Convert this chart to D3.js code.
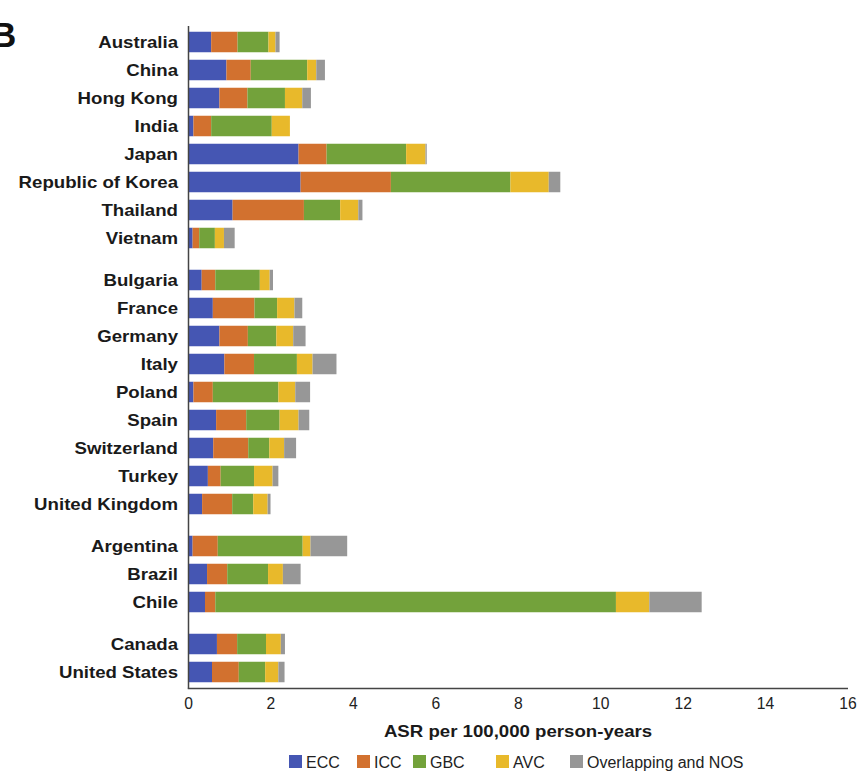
<!DOCTYPE html>
<html><head><meta charset="utf-8">
<script src="https://cdn.jsdelivr.net/npm/d3@7"></script>
<style>
html,body{margin:0;padding:0;background:#fff;}
svg{display:block;}
</style></head>
<body>
<svg id="chart" width="859" height="773"></svg>
<script>
const countries = ["Australia","China","Hong Kong","India","Japan","Republic of Korea","Thailand","Vietnam",
  "Bulgaria","France","Germany","Italy","Poland","Spain","Switzerland","Turkey","United Kingdom",
  "Argentina","Brazil","Chile","Canada","United States"];
const groups = [0,0,0,0,0,0,0,0, 1,1,1,1,1,1,1,1,1, 2,2,2, 3,3];
const seriesNames = ["ECC","ICC","GBC","AVC","Overlapping and NOS"];
const ecc = [0.55,0.92,0.75,0.12,2.67,2.72,1.07,0.10, 0.32,0.59,0.75,0.87,0.12,0.67,0.60,0.47,0.33, 0.10,0.45,0.40, 0.69,0.57];
const icc = [0.64,0.59,0.68,0.43,0.68,2.19,1.73,0.16, 0.33,1.01,0.69,0.72,0.47,0.73,0.85,0.31,0.73, 0.61,0.49,0.25, 0.49,0.65];
const gbc = [0.75,1.37,0.91,1.47,1.93,2.90,0.88,0.38, 1.08,0.55,0.69,1.04,1.59,0.81,0.51,0.81,0.51, 2.06,0.99,9.72, 0.70,0.64];
const avc = [0.17,0.22,0.42,0.44,0.47,0.93,0.44,0.22, 0.24,0.42,0.41,0.38,0.41,0.46,0.36,0.45,0.35, 0.19,0.36,0.81, 0.36,0.32];
const nos = [0.10,0.21,0.21,0.00,0.03,0.28,0.10,0.26, 0.08,0.19,0.30,0.58,0.36,0.26,0.29,0.14,0.07, 0.89,0.43,1.27, 0.10,0.15];
const xTicks = [0,2,4,6,8,10,12,14,16];
const colors = ["#4556b3","#d2712f","#73a23b","#e8b92b","#979797"];

const svg = d3.select("#chart");
const x = d3.scaleLinear().domain([0,16]).range([188.5,848]);
const groupGap = 0.5;
const pos = countries.map((c,i)=> i + groups[i]*groupGap);
const y = d3.scaleLinear().domain([0, 21 + 3*groupGap]).range([42, 672]);
const barH = 20.5;

const rows = countries.map((c,i)=>({country:c, ECC:ecc[i], ICC:icc[i], GBC:gbc[i], AVC:avc[i], "Overlapping and NOS":nos[i], p:pos[i]}));
const stack = d3.stack().keys(seriesNames)(rows);
const color = d3.scaleOrdinal().domain(seriesNames).range(colors);

svg.append("g").selectAll("g").data(stack).join("g")
  .attr("fill", d=>color(d.key))
  .selectAll("rect").data(d=>d).join("rect")
  .attr("x", d=>x(d[0]))
  .attr("width", d=>Math.max(0, x(d[1])-x(d[0])))
  .attr("y", d=>y(d.data.p)-barH/2)
  .attr("height", barH);

const boldFont = "Liberation Sans, Arial, sans-serif";
const wide = 1.13;

// country labels
svg.append("g").selectAll("text").data(rows).join("text")
  .attr("transform", d=>`translate(178,${y(d.p)}) scale(${wide},1)`)
  .attr("dy","0.36em")
  .attr("text-anchor","end")
  .attr("font-family",boldFont)
  .attr("font-weight","bold").attr("font-size",16.5).attr("fill","#1a1a1a")
  .text(d=>d.country);

// axes lines
svg.append("line").attr("x1",x(0)).attr("x2",x(0)).attr("y1",26).attr("y2",688.5)
  .attr("stroke","#444").attr("stroke-width",1.5);
svg.append("line").attr("x1",x(0)-0.75).attr("x2",x(16)).attr("y1",688.5).attr("y2",688.5)
  .attr("stroke","#444").attr("stroke-width",1.5);

// tick labels
svg.append("g").selectAll("text").data(xTicks).join("text")
  .attr("transform", d=>`translate(${x(d)},709) scale(0.95,1)`)
  .attr("text-anchor","middle")
  .attr("font-family","Liberation Sans, Arial, sans-serif")
  .attr("font-size",16.5).attr("fill","#222")
  .text(d=>d);

svg.append("text")
  .attr("transform", `translate(518,737) scale(${wide},1)`)
  .attr("text-anchor","middle")
  .attr("font-family",boldFont)
  .attr("font-weight","bold").attr("font-size",16.5).attr("fill","#1a1a1a")
  .text("ASR per 100,000 person-years");

// legend
const legX = [289, 357, 413, 496, 570];
const leg = svg.append("g").selectAll("g").data(seriesNames).join("g")
  .attr("transform",(d,i)=>`translate(${legX[i]},755)`);
leg.append("rect").attr("width",13).attr("height",13).attr("fill",d=>color(d));
leg.append("text").attr("x",17).attr("y",12.5)
  .attr("font-family","Liberation Sans, Arial, sans-serif")
  .attr("font-size",16).attr("fill","#222")
  .text(d=>d);

// panel letter (cut off at the left edge, as in the source figure)
svg.append("text").attr("x",-9).attr("y",47)
  .attr("font-family",boldFont)
  .attr("font-weight","bold").attr("font-size",35).attr("fill","#111")
  .text("B");
</script>
</body></html>
